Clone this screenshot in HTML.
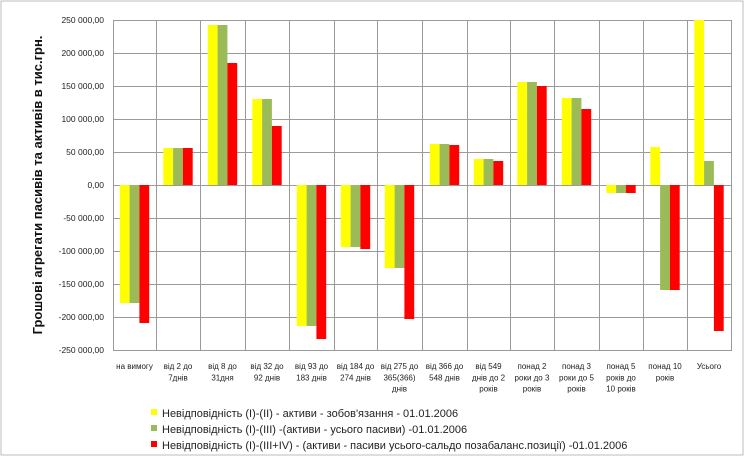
<!DOCTYPE html>
<html><head><meta charset="utf-8"><style>
body{margin:0;background:#fff}
svg{display:block;font-family:"Liberation Sans","DejaVu Sans",sans-serif}
</style></head><body>
<svg width="745" height="456" viewBox="0 0 745 456">
<rect x="1" y="1" width="742" height="454" fill="#fff" stroke="#bdbdbd" stroke-width="1"/>
<g stroke="#9a9a9a" stroke-width="1">
<line x1="113" y1="20.5" x2="732" y2="20.5"/><line x1="113" y1="53.5" x2="732" y2="53.5"/>
<line x1="113" y1="86.5" x2="732" y2="86.5"/><line x1="113" y1="119.5" x2="732" y2="119.5"/>
<line x1="113" y1="152.5" x2="732" y2="152.5"/><line x1="113" y1="185.5" x2="732" y2="185.5"/>
<line x1="113" y1="218.5" x2="732" y2="218.5"/><line x1="113" y1="251.5" x2="732" y2="251.5"/>
<line x1="113" y1="284.5" x2="732" y2="284.5"/><line x1="113" y1="317.5" x2="732" y2="317.5"/>
<line x1="113" y1="350.5" x2="732" y2="350.5"/>
<line x1="113.5" y1="20" x2="113.5" y2="351"/><line x1="156.5" y1="20" x2="156.5" y2="351"/>
<line x1="200.5" y1="20" x2="200.5" y2="351"/><line x1="245.5" y1="20" x2="245.5" y2="351"/>
<line x1="289.5" y1="20" x2="289.5" y2="351"/><line x1="334.5" y1="20" x2="334.5" y2="351"/>
<line x1="377.5" y1="20" x2="377.5" y2="351"/><line x1="422.5" y1="20" x2="422.5" y2="351"/>
<line x1="467.5" y1="20" x2="467.5" y2="351"/><line x1="510.5" y1="20" x2="510.5" y2="351"/>
<line x1="554.5" y1="20" x2="554.5" y2="351"/><line x1="599.5" y1="20" x2="599.5" y2="351"/>
<line x1="643.5" y1="20" x2="643.5" y2="351"/><line x1="687.5" y1="20" x2="687.5" y2="351"/>
<line x1="731.5" y1="20" x2="731.5" y2="351"/>
</g>
<g>
<rect x="119.8" y="185" width="9.8" height="118" fill="#ffff00"/><rect x="129.6" y="185" width="9.8" height="118" fill="#9bbb59"/><rect x="139.4" y="185" width="9.8" height="138" fill="#ff0000"/>
<rect x="163.3" y="148" width="9.8" height="37" fill="#ffff00"/><rect x="173.1" y="148" width="9.8" height="37" fill="#9bbb59"/><rect x="182.9" y="148" width="9.8" height="37" fill="#ff0000"/>
<rect x="207.8" y="25" width="9.8" height="160" fill="#ffff00"/><rect x="217.6" y="25" width="9.8" height="160" fill="#9bbb59"/><rect x="227.4" y="63" width="9.8" height="122" fill="#ff0000"/>
<rect x="252.3" y="99" width="9.8" height="86" fill="#ffff00"/><rect x="262.1" y="99" width="9.8" height="86" fill="#9bbb59"/><rect x="271.9" y="126" width="9.8" height="59" fill="#ff0000"/>
<rect x="296.8" y="185" width="9.8" height="141" fill="#ffff00"/><rect x="306.6" y="185" width="9.8" height="141" fill="#9bbb59"/><rect x="316.4" y="185" width="9.8" height="154" fill="#ff0000"/>
<rect x="340.8" y="185" width="9.8" height="62" fill="#ffff00"/><rect x="350.6" y="185" width="9.8" height="62" fill="#9bbb59"/><rect x="360.4" y="185" width="9.8" height="64" fill="#ff0000"/>
<rect x="384.8" y="185" width="9.8" height="83" fill="#ffff00"/><rect x="394.6" y="185" width="9.8" height="83" fill="#9bbb59"/><rect x="404.4" y="185" width="9.8" height="134" fill="#ff0000"/>
<rect x="429.8" y="144" width="9.8" height="41" fill="#ffff00"/><rect x="439.6" y="144" width="9.8" height="41" fill="#9bbb59"/><rect x="449.4" y="145" width="9.8" height="40" fill="#ff0000"/>
<rect x="473.8" y="159" width="9.8" height="26" fill="#ffff00"/><rect x="483.6" y="159" width="9.8" height="26" fill="#9bbb59"/><rect x="493.4" y="161" width="9.8" height="24" fill="#ff0000"/>
<rect x="517.3" y="82" width="9.8" height="103" fill="#ffff00"/><rect x="527.1" y="82" width="9.8" height="103" fill="#9bbb59"/><rect x="536.9" y="86" width="9.8" height="99" fill="#ff0000"/>
<rect x="561.8" y="98" width="9.8" height="87" fill="#ffff00"/><rect x="571.6" y="98" width="9.8" height="87" fill="#9bbb59"/><rect x="581.4" y="109" width="9.8" height="76" fill="#ff0000"/>
<rect x="606.3" y="185" width="9.8" height="8" fill="#ffff00"/><rect x="616.1" y="185" width="9.8" height="8" fill="#9bbb59"/><rect x="625.9" y="185" width="9.8" height="8" fill="#ff0000"/>
<rect x="650.3" y="147" width="9.8" height="38" fill="#ffff00"/><rect x="660.1" y="185" width="9.8" height="105" fill="#9bbb59"/><rect x="669.9" y="185" width="9.8" height="105" fill="#ff0000"/>
<rect x="694.3" y="20" width="9.8" height="165" fill="#ffff00"/><rect x="704.1" y="161" width="9.8" height="24" fill="#9bbb59"/><rect x="713.9" y="185" width="9.8" height="146" fill="#ff0000"/>
</g>
<g font-size="8.5" fill="#222" text-anchor="end">
<text x="104" y="23">250 000,00</text><text x="104" y="56">200 000,00</text>
<text x="104" y="89">150 000,00</text><text x="104" y="122">100 000,00</text>
<text x="104" y="155">50 000,00</text><text x="104" y="188">0,00</text>
<text x="104" y="221">-50 000,00</text><text x="104" y="254">-100 000,00</text>
<text x="104" y="287">-150 000,00</text><text x="104" y="320">-200 000,00</text>
<text x="104" y="353">-250 000,00</text>
</g>
<text transform="translate(42,185) rotate(-90)" text-anchor="middle" font-size="13" font-weight="bold" fill="#111">Грошові агрегати  пасивів та активів  в тис.грн.</text>
<g font-size="8" fill="#222" text-anchor="middle">
<text x="134.5" y="369">на вимогу</text>
<text x="178" y="369">від 2 до</text><text x="178" y="380.3">7днів</text>
<text x="222.5" y="369">від 8 до</text><text x="222.5" y="380.3">31дня</text>
<text x="267" y="369">від 32 до</text><text x="267" y="380.3">92 днів</text>
<text x="311.5" y="369">від 93 до</text><text x="311.5" y="380.3">183 днів</text>
<text x="355.5" y="369">від 184 до</text><text x="355.5" y="380.3">274 днів</text>
<text x="399.5" y="369">від 275 до</text><text x="399.5" y="380.3">365(366)</text><text x="399.5" y="391.6">днів</text>
<text x="444.5" y="369">від 366 до</text><text x="444.5" y="380.3">548 днів</text>
<text x="488.5" y="369">від 549</text><text x="488.5" y="380.3">днів до 2</text><text x="488.5" y="391.6">років</text>
<text x="532" y="369">понад 2</text><text x="532" y="380.3">роки до 3</text><text x="532" y="391.6">років</text>
<text x="576.5" y="369">понад 3</text><text x="576.5" y="380.3">роки до 5</text><text x="576.5" y="391.6">років</text>
<text x="621" y="369">понад 5</text><text x="621" y="380.3">років до</text><text x="621" y="391.6">10 років</text>
<text x="665" y="369">понад 10</text><text x="665" y="380.3">років</text>
<text x="709" y="369">Усього</text>
</g>
<g font-size="11" fill="#222">
<rect x="151" y="409" width="6" height="6" fill="#ffff00"/><text x="162" y="417">Невідповідність (I)-(II) - активи - зобов'язання - 01.01.2006</text>
<rect x="151" y="425" width="6" height="6" fill="#9bbb59"/><text x="162" y="433">Невідповідність (I)-(III) -(активи - усього пасиви) -01.01.2006</text>
<rect x="151" y="441" width="6" height="6" fill="#ff0000"/><text x="162" y="449">Невідповідність (I)-(III+IV) - (активи - пасиви усього-сальдо позабаланс.позиції) -01.01.2006</text>
</g>
</svg>
</body></html>
